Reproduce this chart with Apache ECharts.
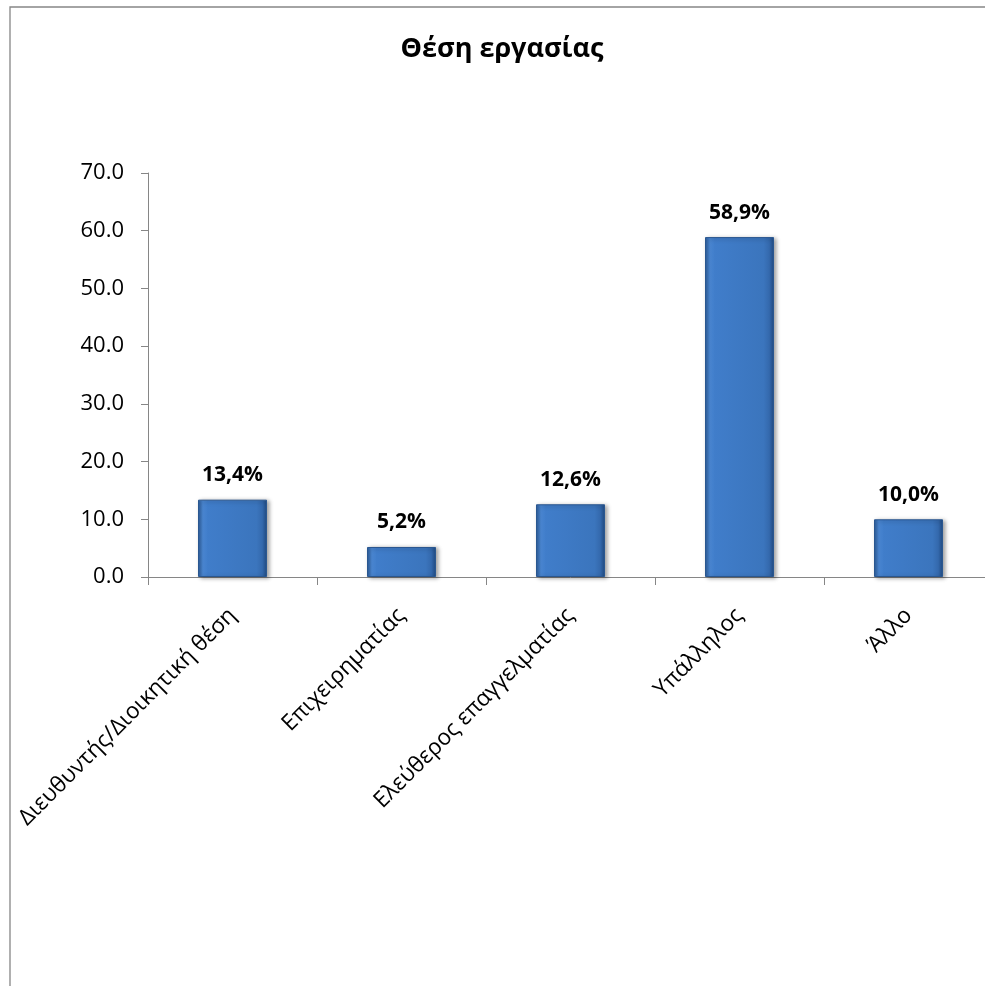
<!DOCTYPE html>
<html>
<head>
<meta charset="utf-8">
<title>Θέση εργασίας</title>
<script src="https://cdn.jsdelivr.net/npm/echarts@6/dist/echarts.min.js"></script>
<style>
  html, body { margin: 0; padding: 0; background: #ffffff; overflow: hidden; }
  /* the chart frame runs a little past the right edge of the page */
  #chart { width: 1000px; height: 986px; }
</style>
</head>
<body>
<div id="chart"></div>
<script>
// Job position categories and their shares (%)
const categories = [
  'Διευθυντής/Διοικητική θέση',
  'Επιχειρηματίας',
  'Ελεύθερος επαγγελματίας',
  'Υπάλληλος',
  'Άλλο'
];
const shares = [13.4, 5.2, 12.6, 58.9, 10.0];
const yTicks = { min: 0, max: 70, step: 10 };
const titleText = 'Θέση εργασίας';

const FONT = '"Open Sans", "Noto Sans", "DejaVu Sans", sans-serif';
const AXIS_GRAY = '#868686';

const chart = echarts.init(document.getElementById('chart'), null, { renderer: 'canvas' });

// Bevelled blue face for the columns
const barFill = new echarts.graphic.LinearGradient(0, 0, 1, 0, [
  { offset: 0.00, color: '#2b5a96' },
  { offset: 0.07, color: '#4b88d4' },
  { offset: 0.14, color: '#407dca' },
  { offset: 0.85, color: '#3b75bd' },
  { offset: 0.93, color: '#3469ad' },
  { offset: 1.00, color: '#214b82' }
]);

chart.setOption({
  animation: false,
  backgroundColor: '#ffffff',
  title: {
    text: titleText,
    left: 497,
    top: 31,
    textAlign: 'center',
    textStyle: { fontFamily: FONT, fontWeight: 'bold', fontSize: 27, color: '#000000' }
  },
  graphic: [{
    type: 'rect',
    shape: { x: 10, y: 7, width: 1100, height: 1100 },
    style: { fill: 'none', stroke: AXIS_GRAY, lineWidth: 1.3 },
    silent: true
  }],
  grid: { left: 148, right: 7, top: 173, bottom: 409 },
  xAxis: {
    type: 'category',
    data: categories,
    boundaryGap: true,
    axisLine: { lineStyle: { color: AXIS_GRAY, width: 1 } },
    axisTick: { show: true, length: 8, lineStyle: { color: AXIS_GRAY } },
    axisLabel: {
      rotate: 45,
      margin: 35,
      interval: 0,
      fontFamily: FONT,
      fontSize: 22.5,
      color: '#000000'
    },
    splitLine: { show: false }
  },
  yAxis: {
    type: 'value',
    min: yTicks.min,
    max: yTicks.max,
    interval: yTicks.step,
    axisLine: { show: true, lineStyle: { color: AXIS_GRAY, width: 1 } },
    axisTick: { show: true, length: 7, lineStyle: { color: AXIS_GRAY } },
    axisLabel: {
      margin: 24,
      fontFamily: FONT,
      fontSize: 22,
      color: '#000000',
      formatter: v => v.toFixed(1)
    },
    splitLine: { show: false }
  },
  series: [{
    type: 'bar',
    data: shares,
    barWidth: 69,
    itemStyle: {
      color: barFill,
      borderColor: '#2a5790',
      borderWidth: 1,
      shadowColor: 'rgba(0,0,0,0.35)',
      shadowBlur: 4,
      shadowOffsetX: 2,
      shadowOffsetY: 1
    },
    label: {
      show: true,
      position: 'top',
      distance: 14,
      fontFamily: FONT,
      fontWeight: 'bold',
      fontSize: 21,
      color: '#000000',
      formatter: p => p.value.toFixed(1).replace('.', ',') + '%'
    }
  }]
});
</script>
</body>
</html>
